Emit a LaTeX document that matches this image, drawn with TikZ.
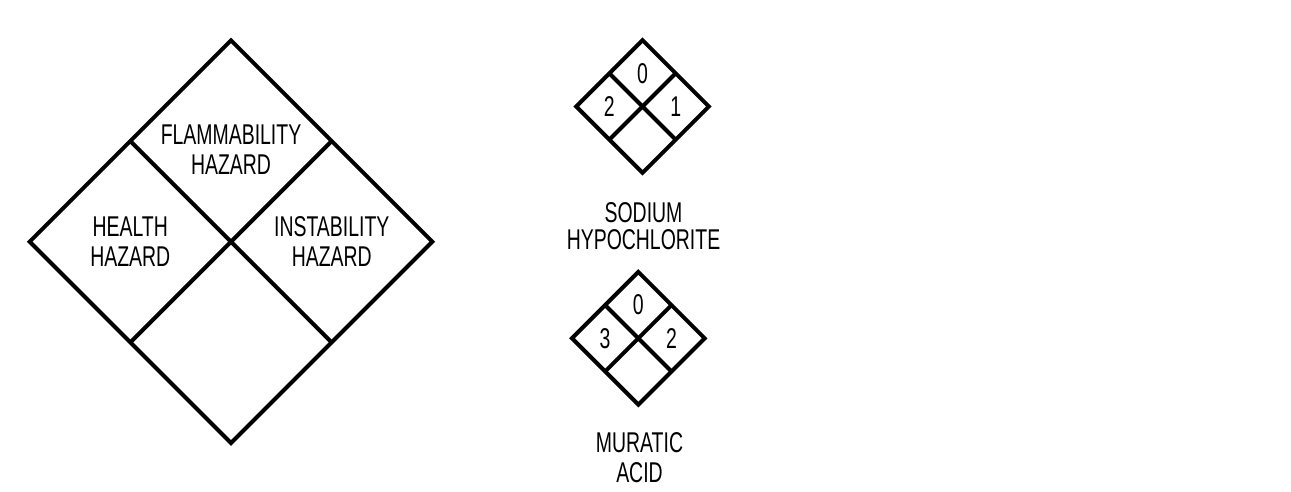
\documentclass[tikz,border=0pt]{standalone}
\usepackage{fontspec}
\newfontfamily\hazfont[FakeStretch=0.68]{Liberation Sans}
\usetikzlibrary{calc,positioning}

\tikzset{
  pics/firediamond/.style={code={
    \coordinate (-c) at (0,0);
    \coordinate (-n) at (0,-1);
    \coordinate (-e) at (1,0);
    \coordinate (-s) at (0,1);
    \coordinate (-w) at (-1,0);
    \draw[rim] (-n) -- (-e) -- (-s) -- (-w) -- cycle;
    \draw[rim] ($(-n)!0.5!(-w)$) -- ($(-e)!0.5!(-s)$);
    \draw[rim] ($(-n)!0.5!(-e)$) -- ($(-w)!0.5!(-s)$);
  }}
}

\begin{document}
\begin{tikzpicture}[
  x=0.5pt, y=-0.5pt,
  rim/.style={line width=2pt, line join=miter},
  lbl/.style={font=\hazfont\fontsize{14.3pt}{15pt}\selectfont, align=center, inner sep=0pt},
  num/.style={font=\hazfont\fontsize{14.3pt}{15pt}\selectfont, inner sep=0pt}
]
\useasboundingbox (0,0) rectangle (1291,492);

% key diamond
\pic[scale=201.5] (key) at (231,241.7) {firediamond};
\node[lbl] (flam)  at (231,150) {FLAMMABILITY\\HAZARD};
\node[lbl] (hlth)  at ($(key-c)!0.5!(key-w)$) {HEALTH\\HAZARD};
\node[lbl] (inst)  at ($(key-c)!0.5!(key-e)$) {INSTABILITY\\HAZARD};

% sodium hypochlorite
\pic[scale=66.5] (sod) at (642.5,106.5) {firediamond};
\node[num] (sod-f) at ($(sod-c)!0.5!(sod-n)$) {0};
\node[num] (sod-h) at ($(sod-c)!0.5!(sod-w)$) {2};
\node[num] (sod-i) at ($(sod-c)!0.5!(sod-e)$) {1};
\node[lbl, font=\hazfont\fontsize{14.3pt}{13.5pt}\selectfont] (sodname) at (643.5,226.5) {SODIUM\\HYPOCHLORITE};

% muratic acid
\pic[scale=66.5] (mur) at (638.3,338.3) {firediamond};
\node[num] (mur-f) at ($(mur-c)!0.5!(mur-n)$) {0};
\node[num] (mur-h) at ($(mur-c)!0.5!(mur-w)$) {3};
\node[num] (mur-i) at ($(mur-c)!0.5!(mur-e)$) {2};
\node[lbl] (murname) at (639.5,458) {MURATIC\\ACID};
\end{tikzpicture}
\end{document}
